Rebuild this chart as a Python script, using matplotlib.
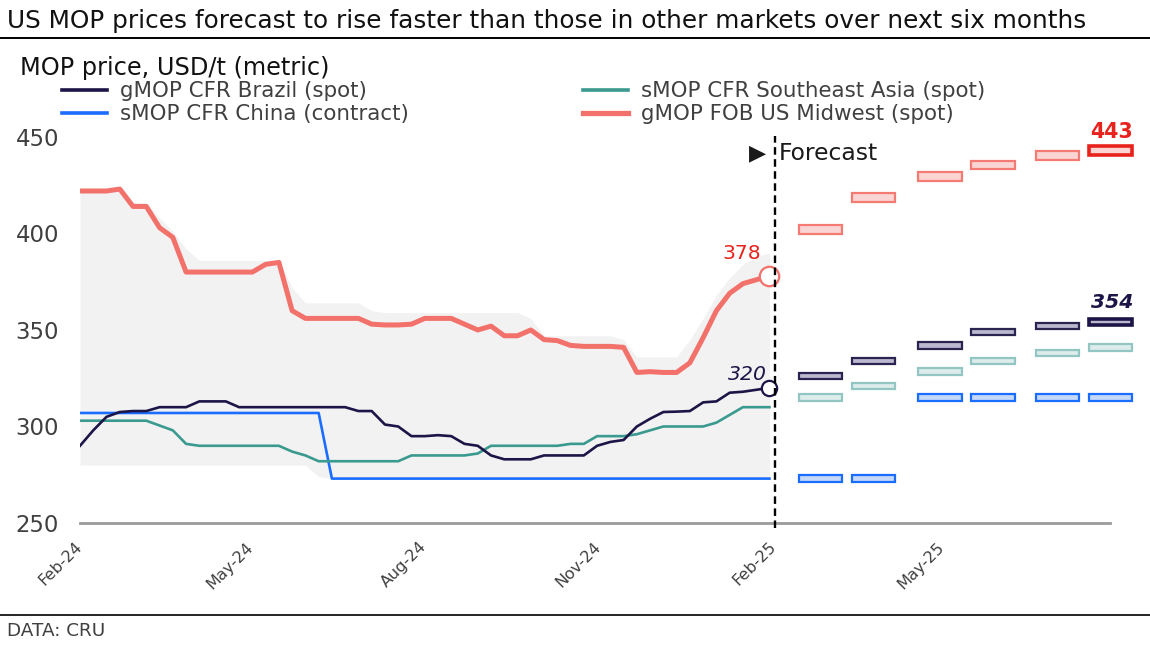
import matplotlib
matplotlib.use("Agg")
import matplotlib.pyplot as plt
import matplotlib.dates as mdates
from matplotlib.lines import Line2D
import pandas as pd

plt.rcParams['font.family'] = ['DejaVu Sans']

# ---------------- data ----------------
hist_dates = pd.date_range("2024-02-01", periods=53, freq="7D")

brazil = [290, 298, 305, 307.5, 308, 308, 310, 310, 310, 313, 313, 313, 310, 310,
          310, 310, 310, 310, 310, 310, 310, 308, 308, 301, 300, 295, 295, 295.5,
          295, 291, 290, 285, 283, 283, 283, 285, 285, 285, 285, 290, 292, 293,
          300, 304, 307.5, 307.7, 308, 312.5, 313, 317.5, 318, 319, 320]

sea = [303, 303, 303, 303, 303, 303, 300.5, 298, 291, 290, 290, 290, 290, 290,
       290, 290, 287, 285, 282, 282, 282, 282, 282, 282, 282, 285, 285, 285,
       285, 285, 286, 290, 290, 290, 290, 290, 290, 291, 291, 295, 295, 295,
       296, 298, 300, 300, 300, 300, 302, 306, 310, 310, 310]

china = [307] * 19 + [273] * 34

us_midwest = [422, 422, 422, 423, 414, 414, 403, 398, 380, 380, 380, 380, 380, 380,
              384, 385, 360, 356, 356, 356, 356, 356, 353, 352.6, 352.6, 353, 356, 356,
              356, 353, 350, 352, 347, 347, 350, 345, 344.5, 342, 341.5, 341.5, 341.5, 341,
              328, 328.4, 328, 328, 333, 346, 360, 369, 374, 376, 378]

band_hi = [423, 423, 423, 424, 416, 416, 408, 401, 392, 386, 386, 386, 386, 386,
           386, 386, 372, 364, 364, 364, 364, 364, 360, 359, 359, 359, 359, 359,
           359, 359, 359, 359, 359, 359, 356, 347, 347, 347, 347, 347, 347, 345,
           336, 336, 336, 336, 345, 356, 368, 377, 384, 388, 390]
band_lo = [280] * 18 + [274] + [273] * 34

fc_dates = pd.to_datetime(["2025-02-26", "2025-03-26", "2025-04-30",
                           "2025-05-28", "2025-07-01", "2025-07-29"])
fc_brazil = [326, 334, 342, 349, 352, 354]
fc_sea = [315, 321, 328.5, 334, 338, 341]
fc_china = [273, 273, 315, 315, 315, 315]
fc_us = [402, 418.5, 429.5, 435.5, 440.5, 443]

tick_dates = pd.to_datetime(["2024-02-01", "2024-05-01", "2024-08-01",
                             "2024-11-01", "2025-02-01", "2025-05-01"])
tick_labels = ["Feb-24", "May-24", "Aug-24", "Nov-24", "Feb-25", "May-25"]
y_ticks = [250, 300, 350, 400, 450]
forecast_start = pd.Timestamp("2025-02-02")

labels = ["gMOP CFR Brazil (spot)", "sMOP CFR China (contract)",
          "sMOP CFR Southeast Asia (spot)", "gMOP FOB US Midwest (spot)"]

# ---------------- style ----------------
NAVY = "#1c1547"
TEAL = "#3a9a8f"
BLUE = "#1a6dff"
SALMON = "#f2716a"
RED = "#e8221c"
BAND = "#f2f2f2"
TXT = "#404040"

W, H = 1150, 648
fig = plt.figure(figsize=(W / 100, H / 100), dpi=100)
ax = fig.add_axes([80 / W, 1 - 523 / H, (1135 - 80) / W, (523 - 130) / H])

x0 = pd.Timestamp("2024-02-01")
ax.set_xlim(x0, x0 + pd.Timedelta(days=557))
ax.set_ylim(250, 453.6)

ax.fill_between(hist_dates, band_lo, band_hi, color=BAND, lw=0, zorder=1)

ax.plot(hist_dates, china, color=BLUE, lw=1.9, zorder=3)
ax.plot(hist_dates, sea, color=TEAL, lw=1.9, zorder=3)
ax.plot(hist_dates, brazil, color=NAVY, lw=1.9, zorder=4, solid_joinstyle='round')
ax.plot(hist_dates, us_midwest, color=SALMON, lw=3.6, zorder=5,
        solid_joinstyle='round', solid_capstyle='round')

# end markers
ax.plot(hist_dates[-1:], us_midwest[-1:], 'o', ms=14, mfc='white', mec=SALMON, mew=1.6, zorder=6)
ax.plot(hist_dates[-1:], brazil[-1:], 'o', ms=11, mfc='white', mec=NAVY, mew=1.6, zorder=6)

ax.annotate(f"{us_midwest[-1]:.0f}", xy=(hist_dates[-1], us_midwest[-1]), xytext=(-28, 22),
            textcoords='offset pixels', ha='center', va='center', color=RED, fontsize=14.7)
ax.annotate(f"{brazil[-1]:.0f}", xy=(hist_dates[-1], brazil[-1]), xytext=(-22, 13),
            textcoords='offset pixels', ha='center', va='center', color=NAVY, fontsize=14.7,
            style='italic')

# forecast bars
bw = 23


def fbars(vals, h, edge, face, last_edge=None):
    bottoms = [v - h / 2 for v in vals]
    bars = ax.bar(fc_dates, [h] * len(vals), width=bw, bottom=bottoms, color=face,
                  edgecolor=edge, linewidth=1.6, zorder=4)
    if last_edge is not None:
        bars[-1].set_edgecolor(last_edge)
        bars[-1].set_linewidth(2.6)
    return bars


fbars(fc_us, 4.5, "#f47a74", "#fbd5d3", last_edge=RED)
fbars(fc_sea, 3.3, "#93c6c2", "#dcedeb")
fbars(fc_brazil, 3.3, "#2a2450", "#bcb8cf", last_edge=NAVY)
fbars(fc_china, 3.3, BLUE, "#c5d8f7")

ax.annotate(f"{fc_us[-1]:.0f}", xy=(fc_dates[-1], fc_us[-1]), xytext=(1, 18),
            textcoords='offset pixels', ha='center', va='center', color=RED,
            fontsize=14.8, fontweight='bold')
ax.annotate(f"{fc_brazil[-1]:.0f}", xy=(fc_dates[-1], fc_brazil[-1]), xytext=(2, 20),
            textcoords='offset pixels', ha='center', va='center', color=NAVY,
            fontsize=14.6, fontweight='bold', style='italic')

# forecast divider
ax.axvline(forecast_start, ymin=-0.012, ymax=0.985, color='black', lw=1.7,
           ls=(0, (3.2, 1.9)), clip_on=False, zorder=7)
ax.annotate("Forecast", xy=(forecast_start, 441.4), xytext=(4, 0), textcoords='offset pixels',
            ha='left', va='center', fontsize=16.9, color='#1a1a1a')
ax.annotate("\u25B6", xy=(forecast_start, 441.4), xytext=(-18, 0), textcoords='offset pixels',
            ha='center', va='center', fontsize=16, color='#1a1a1a')

# axes styling
for s in ['top', 'right', 'left']:
    ax.spines[s].set_visible(False)
ax.spines['bottom'].set_color('#9a9a9a')
ax.spines['bottom'].set_linewidth(2)
ax.spines['bottom'].set_bounds(mdates.date2num(x0), mdates.date2num(x0 + pd.Timedelta(days=544)))
ax.set_yticks(y_ticks)
ax.set_yticklabels([str(v) for v in y_ticks])
ax.tick_params(axis='y', length=0, pad=15, labelsize=16.4, labelcolor=TXT)
ax.set_xticks(tick_dates)
ax.set_xticklabels(tick_labels, rotation=45, ha='right', va='center', rotation_mode='anchor')
ax.tick_params(axis='x', length=0, pad=15.5, labelsize=11.5, labelcolor=TXT)

# legend (two columns placed independently)
h_br = Line2D([], [], color=NAVY, lw=2.6)
h_cn = Line2D([], [], color=BLUE, lw=2.6)
h_se = Line2D([], [], color=TEAL, lw=2.6)
h_us = Line2D([], [], color=SALMON, lw=3.8)
legkw = dict(frameon=False, fontsize=15.4, handlelength=2.1, handletextpad=0.6,
             labelspacing=0.16, borderpad=0, borderaxespad=0, loc='upper left',
             labelcolor=TXT)
fig.legend([h_br, h_cn], labels[:2], bbox_to_anchor=(62 / W, 1 - 81 / H), **legkw)
fig.legend([h_se, h_us], labels[2:], bbox_to_anchor=(583 / W, 1 - 81 / H), **legkw)

# titles and frame text
fig.text(7 / W, 1 - 21 / H, "US MOP prices forecast to rise faster than those in other markets over next six months",
         ha='left', va='center', fontsize=17.8, color='#111111')
fig.add_artist(Line2D([0, 1], [1 - 38 / H] * 2, color='black', lw=1.4))
fig.text(20 / W, 1 - 68 / H, "MOP price, USD/t (metric)", ha='left', va='center',
         fontsize=17.3, color='#111111')
fig.add_artist(Line2D([0, 1], [1 - 615 / H] * 2, color='black', lw=1.2))
fig.text(7 / W, 1 - 631 / H, "DATA: CRU", ha='left', va='center', fontsize=13.2, color=TXT)

fig.savefig("out.png", dpi=100)
